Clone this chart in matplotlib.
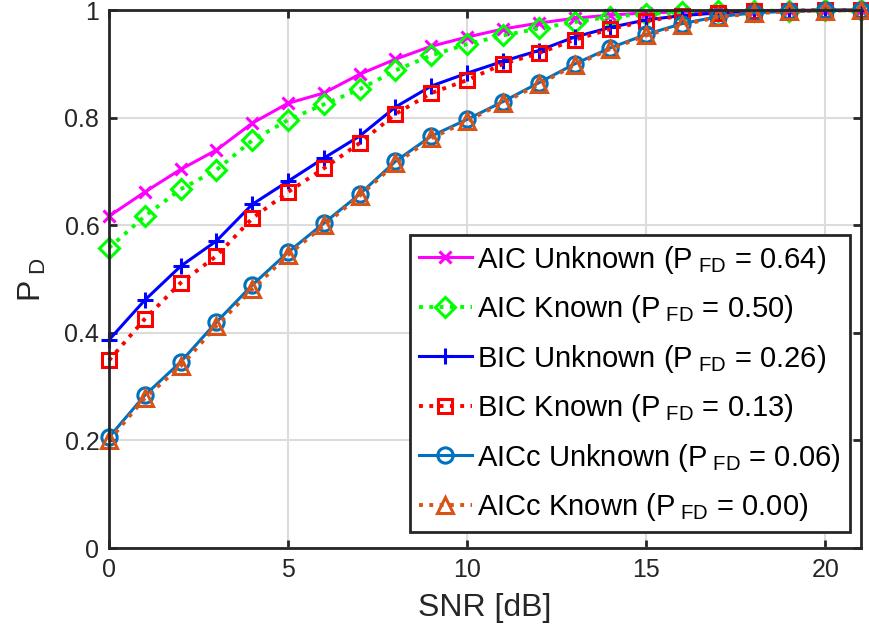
import numpy as np
import matplotlib
matplotlib.use("Agg")
import matplotlib.pyplot as plt

plt.rcParams['font.family'] = ['Liberation Sans', 'DejaVu Sans']
plt.rcParams['mathtext.fontset'] = 'custom'
plt.rcParams['mathtext.rm'] = 'Liberation Sans'
plt.rcParams['mathtext.it'] = 'Liberation Sans'

snr = np.arange(0, 22)

aic_unknown = [0.617, 0.662, 0.704, 0.740, 0.790, 0.827, 0.846, 0.881, 0.909, 0.933, 0.950,
               0.965, 0.976, 0.985, 0.991, 0.995, 0.997, 0.998, 0.999, 1.0, 1.0, 1.0]
aic_known = [0.558, 0.617, 0.667, 0.703, 0.758, 0.796, 0.825, 0.853, 0.888, 0.916, 0.937,
             0.953, 0.966, 0.978, 0.988, 0.993, 0.996, 0.998, 0.999, 0.999, 1.0, 1.0]
bic_unknown = [0.387, 0.461, 0.524, 0.571, 0.639, 0.682, 0.725, 0.766, 0.820, 0.859, 0.883,
               0.905, 0.925, 0.950, 0.968, 0.982, 0.990, 0.995, 0.998, 0.999, 1.0, 1.0]
bic_known = [0.349, 0.426, 0.493, 0.543, 0.613, 0.662, 0.706, 0.753, 0.807, 0.846, 0.870,
             0.900, 0.920, 0.945, 0.965, 0.980, 0.990, 0.995, 0.998, 0.999, 1.0, 1.0]
aicc_unknown = [0.206, 0.284, 0.346, 0.420, 0.489, 0.550, 0.604, 0.658, 0.719, 0.766, 0.797,
                0.830, 0.865, 0.900, 0.930, 0.955, 0.975, 0.988, 0.995, 0.998, 1.0, 1.0]
aicc_known = [0.200, 0.279, 0.338, 0.413, 0.481, 0.545, 0.600, 0.655, 0.715, 0.762, 0.794,
              0.828, 0.862, 0.898, 0.928, 0.953, 0.973, 0.987, 0.994, 0.998, 0.999, 1.0]

labels = ['AIC Unknown (P$_{\\ \\rm FD}$ = 0.64)', 'AIC Known (P$_{\\ \\rm FD}$ = 0.50)',
          'BIC Unknown (P$_{\\ \\rm FD}$ = 0.26)', 'BIC Known (P$_{\\ \\rm FD}$ = 0.13)',
          'AICc Unknown (P$_{\\ \\rm FD}$ = 0.06)', 'AICc Known (P$_{\\ \\rm FD}$ = 0.00)']

fig = plt.figure(figsize=(8.7, 6.38), dpi=100)
ax = fig.add_axes([0.1253, 0.141, 0.8644, 0.843])

kw = dict(clip_on=False, mew=2.2)
ax.plot(snr, aic_unknown, '-', color='#ff00ff', marker='x', ms=9, lw=2.2, label=labels[0], **kw)
ax.plot(snr, aic_known, ':', color='#00ff00', marker='D', ms=10, mfc='none', lw=2.8, label=labels[1], **kw)
ax.plot(snr, bic_unknown, '-', color='#0000ff', marker='+', ms=12, lw=2.2, label=labels[2], **kw)
ax.plot(snr, bic_known, ':', color='#ff0000', marker='s', ms=10, mfc='none', lw=2.8, label=labels[3], **kw)
ax.plot(snr, aicc_unknown, '-', color='#0072bd', marker='o', ms=11, mfc='none', lw=2.2, label=labels[4], **kw)
ax.plot(snr, aicc_known, ':', color='#d95319', marker='^', ms=11, mfc='none', lw=2.8, label=labels[5], **kw)

ax.set_xlim(0, 21)
ax.set_ylim(0, 1)
ax.set_xticks([0, 5, 10, 15, 20])
ax.set_yticks([0, 0.2, 0.4, 0.6, 0.8, 1])
ax.set_yticklabels(['0', '0.2', '0.4', '0.6', '0.8', '1'])
ax.grid(True, color='#dcdcdc', lw=1.5)
ax.set_axisbelow(True)
for s in ax.spines.values():
    s.set_linewidth(2)
    s.set_color('#262626')
ax.tick_params(labelsize=18, width=2, length=6, direction='in', colors='#262626',
               top=True, right=True, pad=7)
ax.set_xlabel('SNR [dB]', fontsize=23, labelpad=8, color='#262626')
ax.set_ylabel('P$_{\\ \\rm D}$', fontsize=23, labelpad=12, color='#262626')

leg = ax.legend(loc='lower right', bbox_to_anchor=(0.985, 0.03), borderaxespad=0, fontsize=21,
                fancybox=False, framealpha=1, edgecolor='#262626',
                handlelength=1.8, borderpad=0.3, labelspacing=0.6, handletextpad=0.2)
leg.get_frame().set_linewidth(2)

fig.savefig('out.png', dpi=100)
